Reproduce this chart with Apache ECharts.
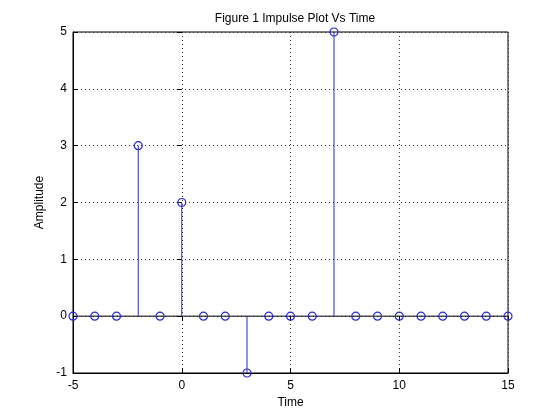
<!DOCTYPE html>
<html>
<head>
<meta charset="utf-8">
<script src="https://cdn.jsdelivr.net/npm/echarts@6/dist/echarts.min.js"></script>
<style>
  html, body { margin: 0; padding: 0; background: #fff; }
  #chart { width: 560px; height: 419px; }
</style>
</head>
<body>
<div id="chart"></div>
<script>
// sample times and impulse amplitudes
var times = [-5, -4, -3, -2, -1, 0, 1, 2, 3, 4, 5, 6, 7, 8, 9, 10, 11, 12, 13, 14, 15];
var amplitude = [0, 0, 0, 3, 0, 2, 0, 0, -1, 0, 0, 0, 5, 0, 0, 0, 0, 0, 0, 0, 0];
var xTicks = [-5, 0, 5, 10, 15];
var yTicks = [-1, 0, 1, 2, 3, 4, 5];

var stemColor = '#2a2ad0';
var fontFam = '"Liberation Sans", Arial, sans-serif';

var points = times.map(function (t, i) { return [t, amplitude[i]]; });

var chart = echarts.init(document.getElementById('chart'), null, { renderer: 'canvas' });

var gridLine = { show: true, lineStyle: { color: '#333', type: [1, 3], width: 1 } };
var tickIn = { show: true, inside: true, length: 5, lineStyle: { color: '#000' } };

chart.setOption({
  animation: false,
  backgroundColor: '#fff',
  title: {
    text: 'Figure 1 Impulse Plot Vs Time',
    left: 290,
    textAlign: 'center',
    top: 8,
    textStyle: { fontFamily: fontFam, fontSize: 12, fontWeight: 'normal', color: '#000' }
  },
  grid: {
    left: 73, right: 52, top: 32, bottom: 46,
    show: true, borderColor: '#000', borderWidth: 1, backgroundColor: '#fff'
  },
  xAxis: [{
    type: 'value',
    min: xTicks[0], max: xTicks[xTicks.length - 1], interval: 5,
    name: 'Time', nameLocation: 'middle', nameGap: 23,
    nameTextStyle: { fontFamily: fontFam, fontSize: 12, color: '#000' },
    axisLine: { show: true, onZero: false, lineStyle: { color: '#000' } },
    axisTick: tickIn,
    axisLabel: { fontFamily: fontFam, fontSize: 12, color: '#000', margin: 7 },
    splitLine: gridLine
  }, {
    type: 'value', position: 'top',
    min: xTicks[0], max: xTicks[xTicks.length - 1], interval: 5,
    axisLine: { show: false }, axisTick: tickIn,
    axisLabel: { show: false }, splitLine: { show: false }
  }],
  yAxis: [{
    type: 'value',
    min: yTicks[0], max: yTicks[yTicks.length - 1], interval: 1,
    name: 'Amplitude', nameLocation: 'middle', nameGap: 20,
    nameTextStyle: { fontFamily: fontFam, fontSize: 12, color: '#000' },
    axisLine: { show: true, onZero: false, lineStyle: { color: '#000' } },
    axisTick: tickIn,
    axisLabel: { fontFamily: fontFam, fontSize: 12, color: '#000', margin: 6 },
    splitLine: gridLine
  }, {
    type: 'value', position: 'right',
    min: yTicks[0], max: yTicks[yTicks.length - 1], interval: 1,
    axisLine: { show: false }, axisTick: tickIn,
    axisLabel: { show: false }, splitLine: { show: false }
  }],
  series: [{
    // baseline across the sample range
    type: 'line',
    data: [[times[0], 0], [times[times.length - 1], 0]],
    symbol: 'none',
    lineStyle: { color: '#000', width: 1, type: 'solid' },
    silent: true,
    z: 2
  }, {
    // stems
    type: 'custom',
    data: points,
    renderItem: function (params, api) {
      var p0 = api.coord([api.value(0), 0]);
      var p1 = api.coord([api.value(0), api.value(1)]);
      return {
        type: 'line',
        shape: { x1: p0[0], y1: p0[1], x2: p1[0], y2: p1[1] },
        style: { stroke: stemColor, lineWidth: 1 }
      };
    },
    silent: true,
    z: 3
  }, {
    // markers
    type: 'scatter',
    data: points,
    symbol: 'circle',
    symbolSize: 8,
    itemStyle: { color: 'rgba(255,255,255,0)', borderColor: stemColor, borderWidth: 1.2, opacity: 1 },
    silent: true,
    z: 4
  }]
});
</script>
</body>
</html>
